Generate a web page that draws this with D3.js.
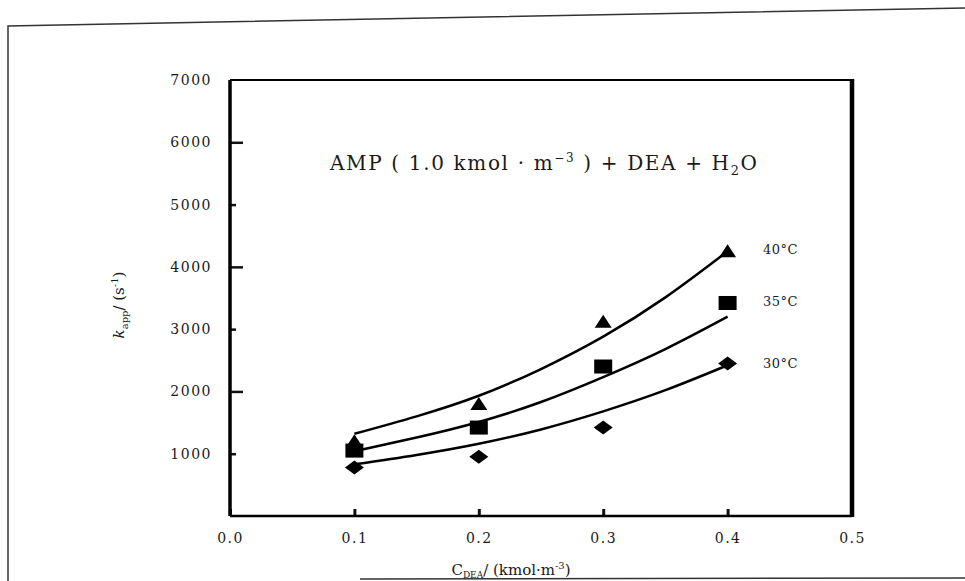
<!DOCTYPE html>
<html>
<head>
<meta charset="utf-8">
<script src="https://cdn.jsdelivr.net/npm/d3@7"></script>
<style>
  body { margin: 0; background: #fff; }
  svg { display: block; }
  text { font-family: "DejaVu Serif", "Liberation Serif", serif; fill: #1a1a1a; }
</style>
</head>
<body>
<div id="chart"></div>
<script>
// readings from the picture
var conc = [0.1, 0.2, 0.3, 0.4];
var k30 = [780, 950, 1420, 2450];
var k35 = [1050, 1420, 2400, 3420];
var k40 = [1200, 1800, 3120, 4250];

// fitted lines, read at a few points along each curve
var fitConc = [0.1, 0.15, 0.2, 0.25, 0.3, 0.35, 0.4];
var fit30 = [830, 980, 1160, 1390, 1680, 2020, 2420];
var fit35 = [1040, 1260, 1510, 1830, 2230, 2680, 3200];
var fit40 = [1320, 1600, 1930, 2360, 2880, 3510, 4250];

var seriesNames = ["30°C", "35°C", "40°C"];
var xTicks = [0.0, 0.1, 0.2, 0.3, 0.4, 0.5];
var yTicks = [1000, 2000, 3000, 4000, 5000, 6000, 7000];

var W = 965, H = 581;
var plot = { left: 230, right: 852, top: 80, bottom: 516 };

var svg = d3.select("#chart").append("svg")
    .attr("width", W)
    .attr("height", H);

svg.append("rect")
    .attr("width", W)
    .attr("height", H)
    .attr("fill", "white");

// scanned outer frame (slightly tilted on top)
svg.append("path")
    .attr("d", "M8,581 L8,26 L965,8")
    .attr("fill", "none")
    .attr("stroke", "#333")
    .attr("stroke-width", 1.5);
svg.append("line")
    .attr("x1", 360).attr("x2", 965)
    .attr("y1", 579).attr("y2", 578)
    .attr("stroke", "#333")
    .attr("stroke-width", 1.5);

var x = d3.scaleLinear().domain([0, 0.5]).range([plot.left, plot.right]);
var y = d3.scaleLinear().domain([0, 7000]).range([plot.bottom, plot.top]);

// x axis
var xAxis = svg.append("g")
    .attr("transform", "translate(0," + plot.bottom + ")")
    .call(d3.axisBottom(x).tickValues(xTicks).tickFormat(d3.format(".1f"))
        .tickSizeInner(-7).tickSizeOuter(0).tickPadding(14));
xAxis.select(".domain").remove();
xAxis.selectAll(".tick line").attr("stroke", "#111").attr("stroke-width", 3);
xAxis.selectAll("text")
    .attr("font-size", 14)
    .attr("letter-spacing", 1.5)
    .attr("dy", "0.9em");

// y axis
var yAxis = svg.append("g")
    .attr("transform", "translate(" + plot.left + ",0)")
    .call(d3.axisLeft(y).tickValues(yTicks).tickFormat(d3.format("d"))
        .tickSizeInner(-12).tickSizeOuter(0).tickPadding(18));
yAxis.select(".domain").remove();
yAxis.selectAll(".tick line")
    .attr("x2", function(d) { return (d / 1000) % 2 === 0 ? 13 : 6; })
    .attr("stroke", "#111")
    .attr("stroke-width", 2.5);
yAxis.selectAll(".tick").filter(function(d) { return d === 7000; }).select("line").remove();
yAxis.selectAll("text")
    .attr("font-size", 14)
    .attr("letter-spacing", 1.5);

// plot frame
var frame = svg.append("g").attr("stroke", "#000").attr("fill", "none");
frame.append("line").attr("x1", plot.left).attr("x2", plot.right)
    .attr("y1", plot.top).attr("y2", plot.top).attr("stroke-width", 2);
frame.append("line").attr("x1", plot.left).attr("x2", plot.right)
    .attr("y1", plot.bottom).attr("y2", plot.bottom).attr("stroke-width", 2.5);
frame.append("line").attr("x1", plot.left).attr("x2", plot.left)
    .attr("y1", plot.top).attr("y2", plot.bottom).attr("stroke-width", 3.5);
frame.append("line").attr("x1", plot.right).attr("x2", plot.right)
    .attr("y1", plot.top - 1).attr("y2", plot.bottom + 1).attr("stroke-width", 4.5);

// fitted curves
var line = d3.line()
    .x(function(d) { return x(d[0]); })
    .y(function(d) { return y(d[1]); })
    .curve(d3.curveNatural);

[fit30, fit35, fit40].forEach(function(fit) {
    svg.append("path")
        .datum(fitConc.map(function(c, i) { return [c, fit[i]]; }))
        .attr("d", line)
        .attr("fill", "none")
        .attr("stroke", "#000")
        .attr("stroke-width", 2.5);
});

// markers
var pts = svg.append("g").attr("fill", "#000");

pts.selectAll(".dia")
    .data(conc.map(function(c, i) { return [c, k30[i]]; }))
    .enter().append("path")
    .attr("d", "M-9.5,0 L0,-7 L9.5,0 L0,7 Z")
    .attr("transform", function(d) { return "translate(" + x(d[0]) + "," + y(d[1]) + ")"; });

pts.selectAll(".sq")
    .data(conc.map(function(c, i) { return [c, k35[i]]; }))
    .enter().append("rect")
    .attr("x", function(d) { return x(d[0]) - 9; })
    .attr("y", function(d) { return y(d[1]) - 7; })
    .attr("width", 18)
    .attr("height", 14);

pts.selectAll(".tri")
    .data(conc.map(function(c, i) { return [c, k40[i]]; }))
    .enter().append("path")
    .attr("d", "M-8.5,6 L0,-7 L8.5,6 Z")
    .attr("transform", function(d) { return "translate(" + x(d[0]) + "," + y(d[1]) + ")"; });

// series labels
var labelAt = [k30[3], k35[3], k40[3]];
svg.selectAll(".lab")
    .data(seriesNames)
    .enter().append("text")
    .attr("x", 763)
    .attr("y", function(d, i) { return y(labelAt[i]) + [0, -2, -2][i]; })
    .attr("dy", "0.35em")
    .attr("font-size", 13)
    .attr("font-family", "Liberation Serif, serif")
    .attr("letter-spacing", 0.5)
    .text(function(d) { return d; });

// title inside the plot
var title = svg.append("text")
    .attr("x", 330)
    .attr("y", 170)
    .attr("font-size", 20)
    .attr("font-family", "Liberation Serif, serif")
    .attr("textLength", 427)
    .attr("lengthAdjust", "spacing");
title.append("tspan").text("AMP ( 1.0 kmol · m");
title.append("tspan").attr("dy", -8).attr("font-size", 12).text("−3");
title.append("tspan").attr("dy", 8).text(" ) + DEA + H");
title.append("tspan").attr("dy", 5).attr("font-size", 13).text("2");
title.append("tspan").attr("dy", -5).text("O");

// axis titles
var xt = svg.append("text")
    .attr("x", 511)
    .attr("y", 575)
    .attr("text-anchor", "middle")
    .attr("font-size", 15)
    .attr("font-family", "Liberation Serif, serif");
xt.append("tspan").text("C");
xt.append("tspan").attr("dy", 3).attr("font-size", 9).text("DEA");
xt.append("tspan").attr("dy", -3).text("/ (kmol·m");
xt.append("tspan").attr("dy", -6).attr("font-size", 10).text("-3");
xt.append("tspan").attr("dy", 6).text(")");

var yt = svg.append("text")
    .attr("transform", "translate(124,305) rotate(-90)")
    .attr("text-anchor", "middle")
    .attr("font-size", 15)
    .attr("font-family", "Liberation Serif, serif");
yt.append("tspan").attr("font-style", "italic").text("k");
yt.append("tspan").attr("dy", 4).attr("font-size", 10).text("app");
yt.append("tspan").attr("dy", -4).text("/ (s");
yt.append("tspan").attr("dy", -6).attr("font-size", 10).text("-1");
yt.append("tspan").attr("dy", 6).text(")");
</script>
</body>
</html>
